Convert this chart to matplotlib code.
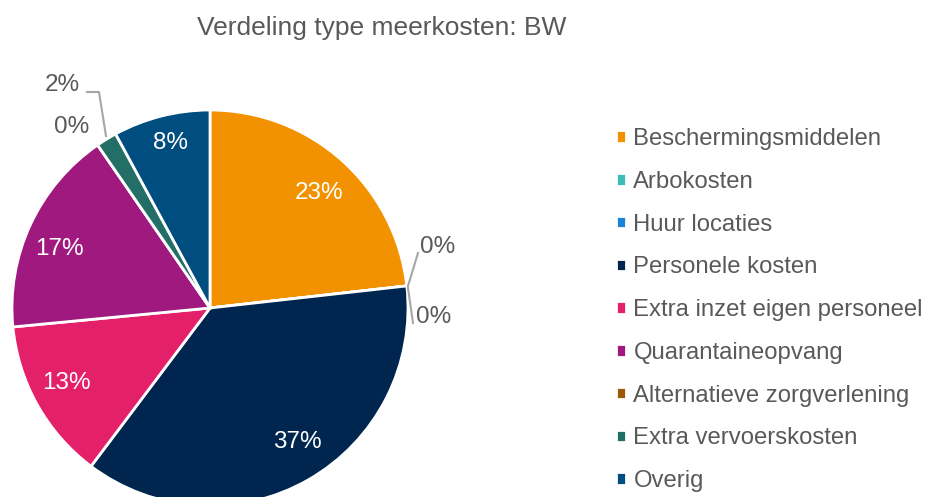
import matplotlib
matplotlib.use('Agg')
import matplotlib.pyplot as plt

# data
categories = ['Beschermingsmiddelen', 'Arbokosten', 'Huur locaties', 'Personele kosten',
              'Extra inzet eigen personeel', 'Quarantaineopvang', 'Alternatieve zorgverlening',
              'Extra vervoerskosten', 'Overig']
shares = [23.2, 0.0, 0.0, 37.0, 13.2, 16.9, 0.0, 1.7, 7.9]
labels = ['23%', '0%', '0%', '37%', '13%', '17%', '0%', '2%', '8%']
colors = ['#F39200', '#3DBDB6', '#1A85D6', '#00264F', '#E5206A', '#A0197E',
          '#9A5A05', '#236F67', '#004D80']

plt.rcParams['font.family'] = ['Liberation Sans', 'DejaVu Sans']
grey = '#595959'

W, H = 926, 497
fig = plt.figure(figsize=(W / 100, H / 100), dpi=100)
ax = fig.add_axes([0, 0, 1, 1])

# pixel coordinates with y pointing up
cx, cy, r = 210, H - 308, 198
wedges, _ = ax.pie(shares, colors=colors, startangle=90, counterclock=False,
                   center=(cx, cy), radius=r,
                   wedgeprops=dict(edgecolor='white', linewidth=2))
ax.set_xlim(0, W)
ax.set_ylim(0, H)
ax.set_aspect('equal')
ax.axis('off')

fs = 17.5
# inside labels
inside = {0: (319, 193), 3: (297, 442), 4: (66, 383), 5: (59, 249), 8: (170, 143)}
for i, (x, y) in inside.items():
    ax.text(x, H - y, labels[i], color='white', fontsize=fs, ha='center', va='center')

# outside labels with leader lines
ax.text(438, H - 247, labels[1], color=grey, fontsize=fs, ha='center', va='center')
ax.text(434, H - 317, labels[2], color=grey, fontsize=fs, ha='center', va='center')
ax.text(72, H - 127, labels[6], color=grey, fontsize=fs, ha='center', va='center')
ax.text(62, H - 85, labels[7], color=grey, fontsize=fs, ha='center', va='center')
lc = '#A6A6A6'
ax.plot([418, 408], [H - 253, H - 286], color=lc, lw=1.5)
ax.plot([408, 413], [H - 288, H - 323], color=lc, lw=1.5)
ax.plot([87, 99, 106], [H - 92, H - 92, H - 136], color=lc, lw=1.5)

fig.text(382 / W, 1 - 28 / H, 'Verdeling type meerkosten: BW', color=grey,
         fontsize=19, ha='center', va='center')

fig.legend(wedges, categories, loc='upper left', bbox_to_anchor=(616 / W, 1 - 128 / H),
           frameon=False, fontsize=17.2, labelcolor=grey, handlelength=0.43,
           handleheight=0.43, handletextpad=0.3, labelspacing=0.87, borderaxespad=0,
           borderpad=0)

fig.savefig('out.png', dpi=100)
